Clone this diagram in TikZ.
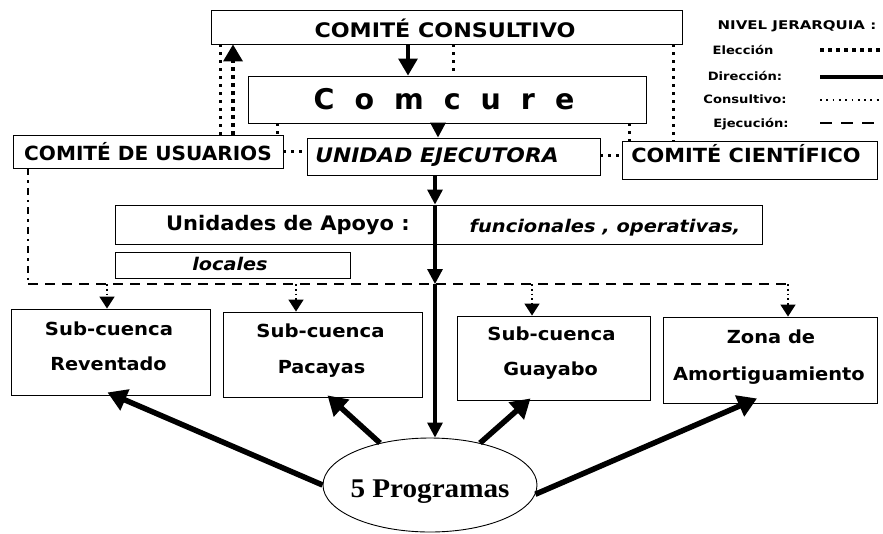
\documentclass[tikz,border=0pt]{standalone}
\usepackage{fontspec}
\setmainfont{DejaVu Sans}
\newfontfamily\progfont{Liberation Serif}
\usepackage{graphicx}
\usetikzlibrary{arrows.meta,shapes.geometric,fit}
\newcommand{\sx}[2]{\scalebox{#1}[1]{#2}}
\newcommand{\fs}[1]{\fontsize{#1}{#1}\selectfont}
\begin{document}
\begin{tikzpicture}[x=1pt,y=-1pt,
  box/.style={draw, line width=0.9pt, inner sep=0pt, rectangle},
  lbl/.style={inner sep=0pt, font=\bfseries, anchor=base},
  dir/.style={line width=3.2pt},
  elec/.style={line width=3.6pt, dash pattern=on 3.5pt off 4.5pt},
  consdot/.style={line width=3pt, dash pattern=on 3pt off 5pt},
  finedot/.style={line width=1.8pt, dash pattern=on 1.8pt off 4.5pt},
  ejec/.style={line width=2.8pt, dash pattern=on 10pt off 7pt},
  ejecdd/.style={line width=2.8pt, dash pattern=on 7pt off 5pt on 2.5pt off 5pt},
  drop/.style={line width=1.6pt, dash pattern=on 1.8pt off 3pt},
  bigtip/.style={-{Triangle[length=17pt,width=19pt]}},
  midtip/.style={-{Triangle[length=15pt,width=15pt]}},
  droptip/.style={-{Triangle[length=12pt,width=15pt]}},
  parrow/.style={line width=5.5pt, -{Triangle[length=19pt,width=22pt]}}
]
\useasboundingbox (0,0) rectangle (883,533);

% boxes
\node[box, fit={(211,10)(682,44)}] (cons) {};
\node[box, fit={(248,76)(646,123)}] (comc) {};
\node[box, fit={(13,135)(283,168)}] (usu) {};
\node[box, fit={(307,138)(600,175)}] (ue) {};
\node[box, fit={(622,141)(877,179)}] (cien) {};
\node[box, fit={(115,205)(762,244)}] (apoyo) {};
\node[box, fit={(115,252)(350,278)}] (loc) {};
\node[box, fit={(11,309)(210,395)}] (rev) {};
\node[box, fit={(223,312)(422,397)}] (pac) {};
\node[box, fit={(457,316)(650,400)}] (guay) {};
\node[box, fit={(663,317)(877,403)}] (zona) {};
\node[draw, ellipse, line width=0.9pt, minimum width=214pt, minimum height=94pt, inner sep=0pt] (prog) at (430,485) {};

% texts
\node[lbl] (tcons) at (445,37) {\fs{20}\sx{1.11}{COMITÉ CONSULTIVO}};
\node[lbl] (tcomc) at (444,109) {\fs{28.5}C\hspace{20pt}o\hspace{20pt}m\hspace{20pt}c\hspace{20pt}u\hspace{20pt}r\hspace{20pt}e};
\node[lbl] (tusu) at (148,160) {\fs{19.5}\sx{1.03}{COMITÉ DE USUARIOS}};
\node[lbl] (tue) at (437,162) {\fs{20}\itshape\sx{1.09}{UNIDAD EJECUTORA}};
\node[lbl] (tcien) at (746,162) {\fs{19.5}\sx{1.07}{COMITÉ CIENTÍFICO}};
\node[lbl] (tapo) at (288,230) {\fs{20}\sx{1.05}{Unidades de Apoyo :}};
\node[lbl] (tfun) at (605,232) {\fs{17.5}\itshape\sx{1.11}{funcionales , operativas,}};
\node[lbl] (tloc) at (230,270) {\fs{17.5}\itshape\sx{1.10}{locales}};
\node[lbl] (trev1) at (109,335) {\fs{18}\sx{1.09}{Sub-cuenca}};
\node[lbl] (trev2) at (108.5,370) {\fs{18}\sx{1.07}{Reventado}};
\node[lbl] (tpac1) at (320.5,337) {\fs{18}\sx{1.09}{Sub-cuenca}};
\node[lbl] (tpac2) at (321.5,373) {\fs{18}\sx{1.07}{Pacayas}};
\node[lbl] (tgua1) at (551.5,340) {\fs{18}\sx{1.09}{Sub-cuenca}};
\node[lbl] (tgua2) at (550.5,375) {\fs{18}\sx{1.07}{Guayabo}};
\node[lbl] (tzon1) at (771,343) {\fs{18}\sx{1.08}{Zona de}};
\node[lbl] (tzon2) at (769,380) {\fs{18}\sx{1.08}{Amortiguamiento}};
\node[lbl, font=\progfont\bfseries] (tprog) at (430,497) {\fs{27}\sx{1.08}{5 Programas}};

% legend
\node[lbl] (lgT) at (797,29) {\fs{12}\sx{1.25}{NIVEL JERARQUIA :}};
\node[lbl] (lg1) at (743,54) {\fs{11.5}\sx{1.14}{Elección}};
\node[lbl] (lg2) at (745,80) {\fs{11.5}\sx{1.14}{Dirección:}};
\node[lbl] (lg3) at (745,103) {\fs{11.5}\sx{1.14}{Consultivo:}};
\node[lbl] (lg4) at (751,127) {\fs{11.5}\sx{1.14}{Ejecución:}};
\coordinate (s1a) at (820,50);  \coordinate (s1b) at (883,50);
\coordinate (s2a) at (820,77);  \coordinate (s2b) at (883,77);
\coordinate (s3a) at (820,100); \coordinate (s3b) at (883,100);
\coordinate (s4a) at (820,123); \coordinate (s4b) at (883,123);
\draw[elec] (s1a) -- (s1b);
\draw[dir] (s2a) -- (s2b);
\draw[finedot] (s3a) -- (s3b);
\draw[ejec, dash pattern=on 12pt off 9pt] (s4a) -- (s4b);

% column / row helpers
\coordinate (k408) at (408,0);
\coordinate (k453) at (453,0);
\coordinate (k233) at (233,0);
\coordinate (k220) at (220,0);
\coordinate (k277) at (277,0);
\coordinate (k438) at (438,0);
\coordinate (k673) at (673,0);
\coordinate (k629) at (629,0);
\coordinate (k435) at (435,0);
\coordinate (k107) at (107,0);
\coordinate (k296) at (296,0);
\coordinate (k532) at (532,0);
\coordinate (r150) at (0,151);
\coordinate (r155) at (0,155);
\coordinate (ejL) at (28,284);
\coordinate (ejR) at (788,284);
\coordinate (ejM) at (435,284);

% top connectors
\draw[dir, bigtip] (cons.south -| k408) -- (comc.north -| k408);
\draw[consdot] (cons.south -| k453) -- (comc.north -| k453);
\draw[elec, bigtip] (usu.north -| k233) -- (cons.south -| k233);
\draw[consdot] (cons.south -| k220) -- (usu.north -| k220);
\draw[consdot] (comc.south -| k277) -- (usu.north -| k277);
\draw[dir, midtip] (comc.south -| k438) -- (ue.north -| k438);
\draw[consdot] (usu.east |- r150) -- (ue.west |- r150);
\draw[consdot] (ue.east |- r155) -- (cien.west |- r155);
\draw[consdot] (cons.south -| k673) -- (cien.north -| k673);
\draw[consdot] (comc.south -| k629) -- (cien.north -| k629);

% main vertical
\draw[dir, midtip] (ue.south -| k435) -- (apoyo.north -| k435);
\draw[dir, midtip] (apoyo.north -| k435) -- (ejM);
\draw[dir, midtip] (ejM) -- (prog.north -| k435);

% ejecucion
\draw[ejecdd] (usu.south -| ejL) -- (ejL);
\draw[ejec] (ejL) -- (ejR);
\draw[drop, droptip] (ejL -| k107) -- (rev.north -| k107);
\draw[drop, droptip] (ejL -| k296) -- (pac.north -| k296);
\draw[drop, droptip] (ejL -| k532) -- (guay.north -| k532);
\draw[drop, droptip] (ejR) -- (zona.north -| ejR);

% programas arrows
\draw[parrow] (prog.west) -- ([xshift=-3pt,yshift=3pt]rev.south);
\draw[parrow] (prog.140) -- ([xshift=5pt,yshift=2pt]pac.south);
\draw[parrow] (prog.40) -- ([xshift=-23pt,yshift=2pt]guay.south);
\draw[parrow] (prog.-5) -- ([xshift=-13pt,yshift=5pt]zona.south);
\end{tikzpicture}
\end{document}
